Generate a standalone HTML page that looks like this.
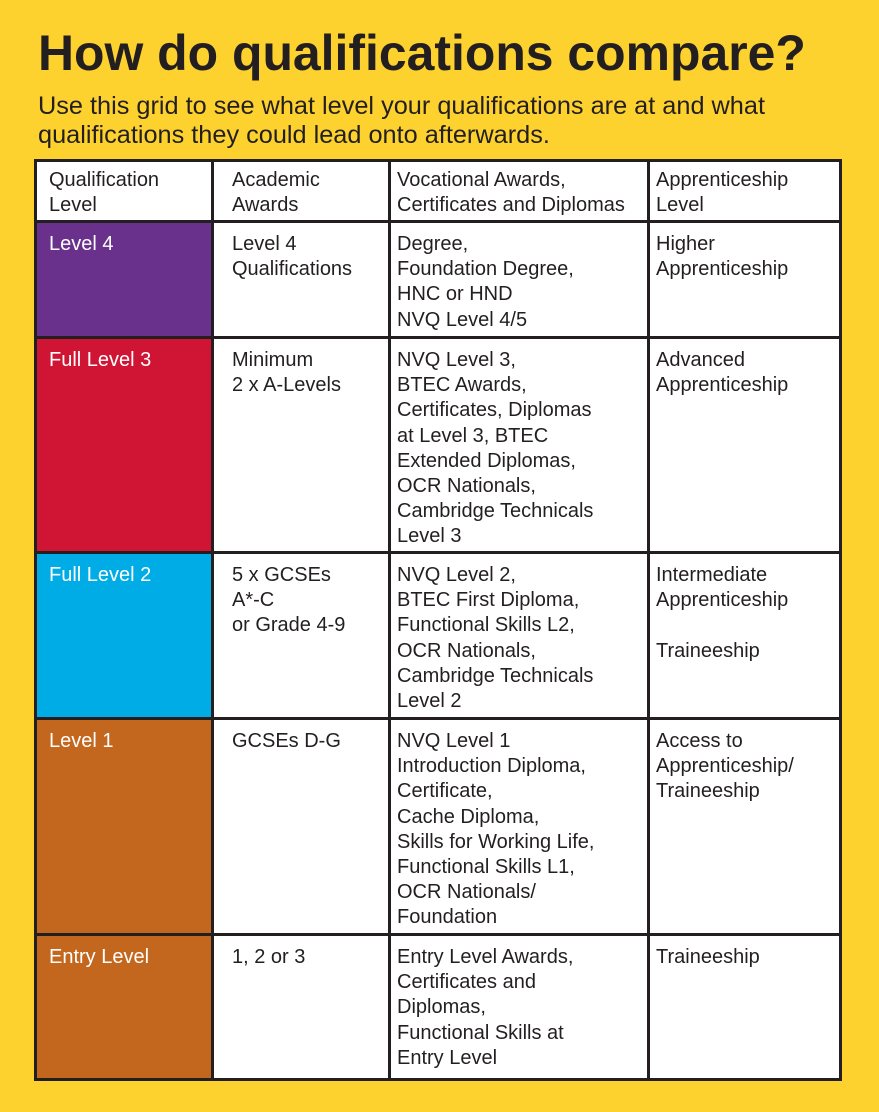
<!DOCTYPE html>
<html><head><meta charset="utf-8"><style>
body{margin:0;width:879px;height:1112px;background:#fdd12e;position:relative;overflow:hidden;font-family:"Liberation Sans",Arial,Helvetica,sans-serif;color:#231f20}
.t{position:absolute;left:38px;top:24px;font-size:49.9px;font-weight:bold;white-space:nowrap}
.s{position:absolute;left:38px;top:92px;font-size:25.3px;line-height:29px;white-space:nowrap}
.c{position:absolute;font-size:20px;line-height:25.2px;box-sizing:border-box;padding:9px 0 0 0;white-space:nowrap;background:#fff}
.w{color:#fff}
.l{position:absolute;background:#231f20}
</style></head><body>
<div class="t">How do qualifications compare?</div>
<div class="s">Use this grid to see what level your qualifications are at and what<br>qualifications they could lead onto afterwards.</div>

<div class="c" style="left:37px;top:162px;width:175px;height:59px;padding-left:12px;padding-top:6px">Qualification<br>Level</div>
<div class="c" style="left:214px;top:162px;width:175px;height:59px;padding-left:18px;padding-top:6px">Academic<br>Awards</div>
<div class="c" style="left:391px;top:162px;width:257px;height:59px;padding-left:6px;padding-top:6px">Vocational Awards,<br>Certificates and Diplomas</div>
<div class="c" style="left:650px;top:162px;width:190px;height:59px;padding-left:6px;padding-top:6px">Apprenticeship<br>Level</div>

<div class="c w" style="left:37px;top:223px;width:175px;height:114px;padding-left:12px;background:#6a318c">Level 4</div>
<div class="c" style="left:214px;top:223px;width:175px;height:114px;padding-left:18px">Level 4<br>Qualifications</div>
<div class="c" style="left:391px;top:223px;width:257px;height:114px;padding-left:6px">Degree,<br>Foundation Degree,<br>HNC or HND<br>NVQ Level 4/5</div>
<div class="c" style="left:650px;top:223px;width:190px;height:114px;padding-left:6px">Higher<br>Apprenticeship</div>

<div class="c w" style="left:37px;top:339px;width:175px;height:213px;padding-left:12px;background:#cf1533">Full Level 3</div>
<div class="c" style="left:214px;top:339px;width:175px;height:213px;padding-left:18px">Minimum<br>2 x A-Levels</div>
<div class="c" style="left:391px;top:339px;width:257px;height:213px;padding-left:6px">NVQ Level 3,<br>BTEC Awards,<br>Certificates, Diplomas<br>at Level 3, BTEC<br>Extended Diplomas,<br>OCR Nationals,<br>Cambridge Technicals<br>Level 3</div>
<div class="c" style="left:650px;top:339px;width:190px;height:213px;padding-left:6px">Advanced<br>Apprenticeship</div>

<div class="c w" style="left:37px;top:554px;width:175px;height:164px;padding-left:12px;background:#00ace6">Full Level 2</div>
<div class="c" style="left:214px;top:554px;width:175px;height:164px;padding-left:18px">5 x GCSEs<br>A*-C<br>or Grade 4-9</div>
<div class="c" style="left:391px;top:554px;width:257px;height:164px;padding-left:6px">NVQ Level 2,<br>BTEC First Diploma,<br>Functional Skills L2,<br>OCR Nationals,<br>Cambridge Technicals<br>Level 2</div>
<div class="c" style="left:650px;top:554px;width:190px;height:164px;padding-left:6px">Intermediate<br>Apprenticeship<br><br>Traineeship</div>

<div class="c w" style="left:37px;top:720px;width:175px;height:214px;padding-left:12px;background:#c3671f">Level 1</div>
<div class="c" style="left:214px;top:720px;width:175px;height:214px;padding-left:18px">GCSEs D-G</div>
<div class="c" style="left:391px;top:720px;width:257px;height:214px;padding-left:6px">NVQ Level 1<br>Introduction Diploma,<br>Certificate,<br>Cache Diploma,<br>Skills for Working Life,<br>Functional Skills L1,<br>OCR Nationals/<br>Foundation</div>
<div class="c" style="left:650px;top:720px;width:190px;height:214px;padding-left:6px">Access to<br>Apprenticeship/<br>Traineeship</div>

<div class="c w" style="left:37px;top:936px;width:175px;height:143px;padding-left:12px;background:#c3671f">Entry Level</div>
<div class="c" style="left:214px;top:936px;width:175px;height:143px;padding-left:18px">1, 2 or 3</div>
<div class="c" style="left:391px;top:936px;width:257px;height:143px;padding-left:6px">Entry Level Awards,<br>Certificates and<br>Diplomas,<br>Functional Skills at<br>Entry Level</div>
<div class="c" style="left:650px;top:936px;width:190px;height:143px;padding-left:6px">Traineeship</div>

<div class="l" style="left:34px;top:159px;width:808px;height:3px"></div>
<div class="l" style="left:34px;top:220px;width:808px;height:3px"></div>
<div class="l" style="left:34px;top:336px;width:808px;height:3px"></div>
<div class="l" style="left:34px;top:551px;width:808px;height:3px"></div>
<div class="l" style="left:34px;top:717px;width:808px;height:3px"></div>
<div class="l" style="left:34px;top:933px;width:808px;height:3px"></div>
<div class="l" style="left:34px;top:1078px;width:808px;height:3px"></div>
<div class="l" style="left:34px;top:159px;width:3px;height:922px"></div>
<div class="l" style="left:211px;top:159px;width:3px;height:922px"></div>
<div class="l" style="left:388px;top:159px;width:3px;height:922px"></div>
<div class="l" style="left:647px;top:159px;width:3px;height:922px"></div>
<div class="l" style="left:839px;top:159px;width:3px;height:922px"></div>
</body></html>
